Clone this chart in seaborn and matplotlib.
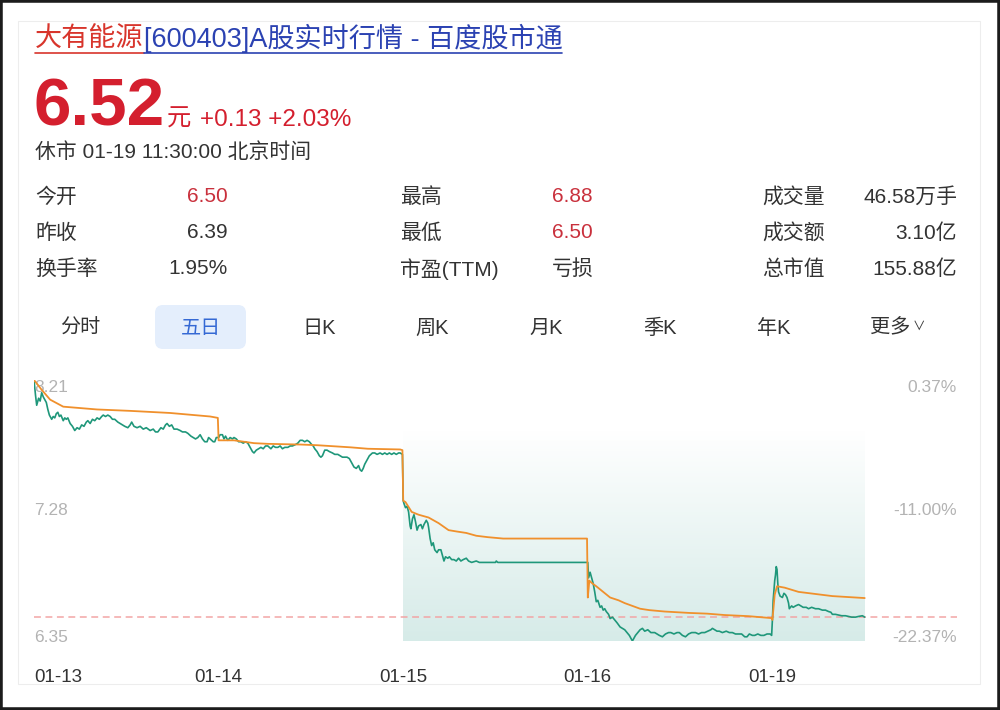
import numpy as np
import pandas as pd
import matplotlib
matplotlib.use("Agg")
import matplotlib.pyplot as plt
from matplotlib.lines import Line2D
from matplotlib.patches import FancyBboxPatch, Rectangle
from matplotlib.transforms import blended_transform_factory, offset_copy
import seaborn as sns

# ---- header data ----
stock_name = "大有能源"
title_rest = "[600403]A股实时行情 - 百度股市通"
last_price = 6.52
change_text = "+0.13 +2.03%"
status_text = "休市 01-19 11:30:00 北京时间"

col1_labels = ["今开", "昨收", "换手率"]
col1_values = ["6.50", "6.39", "1.95%"]
col1_red = [True, False, False]
col2_labels = ["最高", "最低", "市盈(TTM)"]
col2_values = ["6.88", "6.50", "亏损"]
col2_red = [True, True, False]
col3_labels = ["成交量", "成交额", "总市值"]
col3_values = ["46.58万手", "3.10亿", "155.88亿"]

tab_labels = ["分时", "五日", "日K", "周K", "月K", "季K", "年K", "更多"]
active_tab = 1

# ---- five-day chart data (minutes since 01-13 open, 240 per day) ----
day_labels = ["01-13", "01-14", "01-15", "01-16", "01-19"]
day_starts = [0, 240, 480, 720, 960]
total_minutes = 1200
price_ticks = [8.21, 7.28, 6.35]
pct_labels = ["0.37%", "-11.00%", "-22.37%"]

price_minute = [
    0, 2, 3.5, 6, 8, 10, 12, 14, 16, 18, 20, 23, 25, 27, 29, 31, 33, 35, 38, 40,
    42, 44, 47, 50, 53, 56, 59, 62, 65, 68, 70, 73, 76, 79, 82, 85, 88, 90, 93, 96,
    99, 102, 105, 109, 112, 115, 118, 122, 125, 127, 130, 134, 138, 142, 146, 151,
    155, 158, 161, 165, 168, 171, 173, 176, 179, 182, 186, 190, 193, 197, 200, 204,
    207, 210, 213, 216, 219, 222, 225, 227, 229, 231, 233, 235, 237, 239,
    240, 242, 245, 247, 249, 252, 255, 258, 260, 263, 266, 269, 272, 275, 278, 281,
    284, 286, 289, 292, 295, 298, 301, 304, 308, 311, 314, 317, 320, 323, 326, 330,
    333, 336, 340, 343, 346, 349, 352, 355, 358, 361, 363, 365, 368, 371, 373, 375,
    378, 381, 384, 388, 391, 395, 398, 401, 404, 407, 410, 413, 416, 419, 422, 424,
    426, 428, 430, 433, 436, 440, 443, 446, 450, 453, 456, 459, 462, 465, 468, 471,
    474, 476, 479,
    480, 481, 483, 485, 487, 489, 490, 492, 494, 496, 498, 500, 503, 505, 507, 510,
    512, 513, 515, 517, 519, 521, 524, 526, 529, 531, 533, 535, 538, 540, 543, 546,
    549, 552, 555, 558, 562, 565, 569, 575, 579, 590, 600, 601, 603, 719,
    720, 721, 723, 725, 727, 729, 731, 733, 736, 738, 740, 742, 744, 747, 749, 752,
    755, 758, 762, 765, 768, 771, 774, 776, 778, 780, 782, 785, 788, 791, 794, 798,
    802, 807, 810, 813, 817, 821, 825, 828, 832, 836, 839, 843, 847, 851, 855, 860,
    864, 868, 872, 876, 880, 882, 885, 888, 891, 895, 900, 904, 908, 912, 917, 920,
    924, 927, 930, 934, 937, 941, 945, 949, 953, 957, 959,
    960, 961, 963, 964, 965, 966, 967, 968, 970, 973, 975, 977, 979, 981, 982, 985,
    987, 990, 994, 997, 1000, 1004, 1007, 1011, 1016, 1020, 1025, 1029, 1033, 1036,
    1038, 1042, 1046, 1050, 1055, 1059, 1063, 1068, 1072, 1077, 1080,
]
price_value = [
    8.21, 8.10, 8.03, 8.08, 8.06, 8.12, 8.09, 8.07, 8.05, 8.00, 7.96, 7.93, 7.95, 7.94,
    7.97, 7.98, 7.95, 7.96, 7.92, 7.94, 7.93, 7.94, 7.90, 7.88, 7.85, 7.87, 7.86, 7.89,
    7.88, 7.91, 7.92, 7.90, 7.93, 7.92, 7.94, 7.93, 7.95, 7.96, 7.95, 7.96, 7.95, 7.93,
    7.93, 7.91, 7.90, 7.89, 7.88, 7.87, 7.89, 7.91, 7.88, 7.87, 7.88, 7.86, 7.87, 7.85,
    7.86, 7.84, 7.84, 7.87, 7.86, 7.89, 7.90, 7.88, 7.89, 7.86, 7.86, 7.85, 7.84, 7.84,
    7.83, 7.81, 7.80, 7.79, 7.80, 7.82, 7.79, 7.77, 7.77, 7.80, 7.79, 7.78, 7.77, 7.77,
    7.80, 7.80,
    7.80, 7.82, 7.82, 7.79, 7.81, 7.78, 7.80, 7.79, 7.80, 7.79, 7.77, 7.77, 7.76, 7.77,
    7.76, 7.73, 7.70, 7.69, 7.71, 7.72, 7.73, 7.72, 7.74, 7.74, 7.72, 7.74, 7.73, 7.73,
    7.74, 7.72, 7.73, 7.73, 7.74, 7.74, 7.75, 7.76, 7.78, 7.78, 7.77, 7.78, 7.77, 7.75,
    7.74, 7.72, 7.70, 7.67, 7.66, 7.67, 7.71, 7.71, 7.70, 7.69, 7.68, 7.68, 7.67, 7.66,
    7.66, 7.66, 7.65, 7.62, 7.59, 7.58, 7.60, 7.57, 7.56, 7.58, 7.61, 7.64, 7.67, 7.69,
    7.69, 7.68, 7.69, 7.68, 7.69, 7.68, 7.69, 7.68, 7.69, 7.68, 7.69, 7.69, 7.68,
    7.35, 7.33, 7.30, 7.31, 7.27, 7.17, 7.15, 7.22, 7.25, 7.20, 7.14, 7.17, 7.18, 7.15,
    7.18, 7.21, 7.19, 7.16, 7.08, 7.03, 7.05, 7.00, 6.98, 7.00, 7.00, 6.96, 6.92, 6.95,
    6.94, 6.95, 6.93, 6.93, 6.92, 6.94, 6.92, 6.93, 6.94, 6.92, 6.91, 6.92, 6.91, 6.91,
    6.91, 6.92, 6.91, 6.91,
    6.91, 6.80, 6.84, 6.80, 6.76, 6.70, 6.63, 6.64, 6.59, 6.60, 6.57, 6.58, 6.56, 6.54,
    6.51, 6.52, 6.50, 6.48, 6.45, 6.44, 6.43, 6.41, 6.39, 6.37, 6.35, 6.37, 6.39, 6.41,
    6.43, 6.44, 6.42, 6.43, 6.41, 6.41, 6.40, 6.39, 6.38, 6.40, 6.41, 6.41, 6.40, 6.41,
    6.41, 6.39, 6.38, 6.40, 6.41, 6.41, 6.40, 6.41, 6.41, 6.42, 6.43, 6.44, 6.43, 6.42,
    6.42, 6.41, 6.42, 6.41, 6.41, 6.40, 6.40, 6.40, 6.38, 6.38, 6.40, 6.39, 6.39, 6.40,
    6.39, 6.39, 6.40, 6.40, 6.39,
    6.50, 6.64, 6.78, 6.82, 6.88, 6.86, 6.76, 6.70, 6.67, 6.66, 6.69, 6.68, 6.66, 6.62,
    6.58, 6.60, 6.59, 6.60, 6.61, 6.60, 6.59, 6.59, 6.58, 6.59, 6.58, 6.58, 6.57, 6.57,
    6.56, 6.555, 6.54, 6.54, 6.535, 6.53, 6.53, 6.525, 6.52, 6.52, 6.525, 6.53, 6.52,
]

avg_minute = [
    0, 10, 21, 38, 60, 82, 125, 177, 229, 239,
    240, 260, 286, 304, 347, 369, 412, 434, 476, 479,
    480, 483, 491, 500, 513, 526, 539, 550, 562, 575, 590, 610, 719,
    720, 722, 726, 731, 740, 749, 760, 768, 778, 788, 800, 820, 852, 875, 898, 929, 959,
    960, 963, 966, 976, 994, 1016, 1038, 1059, 1080,
]
avg_value = [
    8.21, 8.14, 8.07, 8.02, 8.01, 8.00, 7.99, 7.975, 7.95, 7.94,
    7.78, 7.78, 7.76, 7.755, 7.75, 7.745, 7.73, 7.72, 7.715, 7.71,
    7.35, 7.34, 7.27, 7.25, 7.23, 7.19, 7.14, 7.13, 7.12, 7.10, 7.09, 7.08, 7.08,
    6.66, 6.78, 6.76, 6.74, 6.70, 6.66, 6.64, 6.62, 6.60, 6.58, 6.57, 6.56, 6.55,
    6.545, 6.535, 6.527, 6.513,
    6.50, 6.68, 6.74, 6.73, 6.70, 6.685, 6.67, 6.663, 6.656,
]

# ---- colours ----
RED = "#d41f2e"
RED_VAL = "#c9303c"
LINK_RED = "#d8352c"
LINK_BLUE = "#2b42b2"
DARK = "#333333"
GREY = "#b3b3b3"
GREEN = "#1f977a"
ORANGE = "#f0902c"

W, H = 1000, 710


def fx(x):
    return x / W


def fy(y):
    return 1 - y / H


sns.set_theme(style="white")
plt.rcParams["font.family"] = ["Liberation Sans", "Noto Sans CJK SC", "DejaVu Sans"]

fig = plt.figure(figsize=(10, 7.1), dpi=100)
fig.patch.set_facecolor("white")
renderer = fig.canvas.get_renderer()

# title with underline (shared baseline so CJK and latin parts line up)
t1 = fig.text(fx(35), fy(47), stock_name, color=LINK_RED, fontsize=19.5, va="baseline")
bb1 = t1.get_window_extent(renderer)
t2 = fig.text(bb1.x1 / W, fy(47), title_rest, color=LINK_BLUE, fontsize=19.5, va="baseline")
bb2 = t2.get_window_extent(renderer)
fig.add_artist(Line2D([bb1.x0 / W, bb1.x1 / W], [fy(53)] * 2, color=LINK_RED, lw=1.2))
fig.add_artist(Line2D([bb2.x0 / W, bb2.x1 / W], [fy(53)] * 2, color=LINK_BLUE, lw=1.2))

# price block
tp = fig.text(fx(33), fy(126), f"{last_price:.2f}", color=RED, fontsize=48.5,
              weight="bold", va="baseline")
bbp = tp.get_window_extent(renderer)
fig.text((bbp.x1 + 3) / W, fy(126), "元", color=RED, fontsize=17.5, va="baseline")
fig.text(fx(200), fy(126), change_text, color=RED, fontsize=17.5, va="baseline")
fig.text(fx(35), fy(152), status_text, color=DARK, fontsize=15, va="center")

# stats grid
row_y = [197, 233, 269]
fs = 15
for i, y in enumerate(row_y):
    fig.text(fx(35), fy(y), col1_labels[i], color=DARK, fontsize=fs, va="center")
    fig.text(fx(228), fy(y), col1_values[i], color=RED_VAL if col1_red[i] else DARK,
             fontsize=fs, va="center", ha="right")
    fig.text(fx(400), fy(y), col2_labels[i], color=DARK, fontsize=fs, va="center")
    fig.text(fx(552), fy(y), col2_values[i], color=RED_VAL if col2_red[i] else DARK,
             fontsize=fs, va="center")
    fig.text(fx(762), fy(y), col3_labels[i], color=DARK, fontsize=fs, va="center")
    fig.text(fx(957), fy(y), col3_values[i], color=DARK, fontsize=fs,
             va="center", ha="right")

# tabs
tab_x = [80, 201, 319, 432, 546, 660, 774, 890]
box = FancyBboxPatch((1.55, (H - 349) / 100), 0.91, 0.44,
                     boxstyle="round,pad=0,rounding_size=0.08",
                     transform=fig.dpi_scale_trans, fc="#e4eefc", ec="none")
fig.add_artist(box)
for i, (lab, x) in enumerate(zip(tab_labels, tab_x)):
    c = "#3569d4" if i == active_tab else DARK
    fig.text(fx(x), fy(328), lab, color=c, fontsize=14.5, va="center", ha="center")
fig.text(fx(913), fy(327), "∨", color=DARK, fontsize=9, va="center", ha="left")

# chart
ax = fig.add_axes([fx(34), fy(641), (957 - 34) / W, (641 - 380) / H])
ax.set_facecolor("none")

grad = np.zeros((100, 2, 4))
grad[..., 0] = 0.84
grad[..., 1] = 0.925
grad[..., 2] = 0.91
grad[..., 3] = np.linspace(0, 1, 100)[:, None]
ax.imshow(grad, extent=[day_starts[2], price_minute[-1], price_ticks[-1], 7.86],
          origin="upper", aspect="auto", zorder=0, interpolation="bilinear")

price_df = pd.DataFrame({"minute": price_minute, "price": price_value})
avg_df = pd.DataFrame({"minute": avg_minute, "avg": avg_value})
sns.lineplot(data=price_df, x="minute", y="price", color=GREEN, lw=1.2,
             estimator=None, sort=False, ax=ax, zorder=3)
sns.lineplot(data=avg_df, x="minute", y="avg", color=ORANGE, lw=1.3,
             estimator=None, sort=False, ax=ax, zorder=4)
ax.axhline(last_price, color="#f2a5a5", lw=1.1, ls=(0, (4.5, 3)), zorder=2)

ax.set_xlim(0, total_minutes)
ax.set_ylim(price_ticks[-1], price_ticks[0])
ax.axis("off")

ytrans = blended_transform_factory(ax.transAxes, ax.transData)
vas = ["top", "center", "bottom"]
shifts = [0, 0, -4]
for p, pct, va, dy in zip(price_ticks, pct_labels, vas, shifts):
    tr = offset_copy(ytrans, fig=fig, x=0, y=dy, units="dots")
    ax.text(0, p, f"{p:.2f}", transform=tr, color=GREY, fontsize=12.5, va=va, ha="left")
    ax.text(1, p, pct, transform=tr, color=GREY, fontsize=12.5, va=va, ha="right")

xtrans = blended_transform_factory(ax.transData, fig.transFigure)
for i, (lab, m) in enumerate(zip(day_labels, day_starts)):
    ax.text(m, fy(677), lab, transform=xtrans, color=DARK, fontsize=13.5,
            va="center", ha="left" if i == 0 else "center")

# panel border and screenshot frame
fig.add_artist(Rectangle((fx(18), fy(684)), (980 - 18) / W, (684 - 21) / H,
                         transform=fig.transFigure, fill=False, ec="#ededed", lw=0.8))
fig.add_artist(Rectangle((0, 0), 1, 1, transform=fig.transFigure, fill=False,
                         ec="#1c1c1c", lw=4))

fig.savefig("out.png", dpi=100)
plt.close(fig)
